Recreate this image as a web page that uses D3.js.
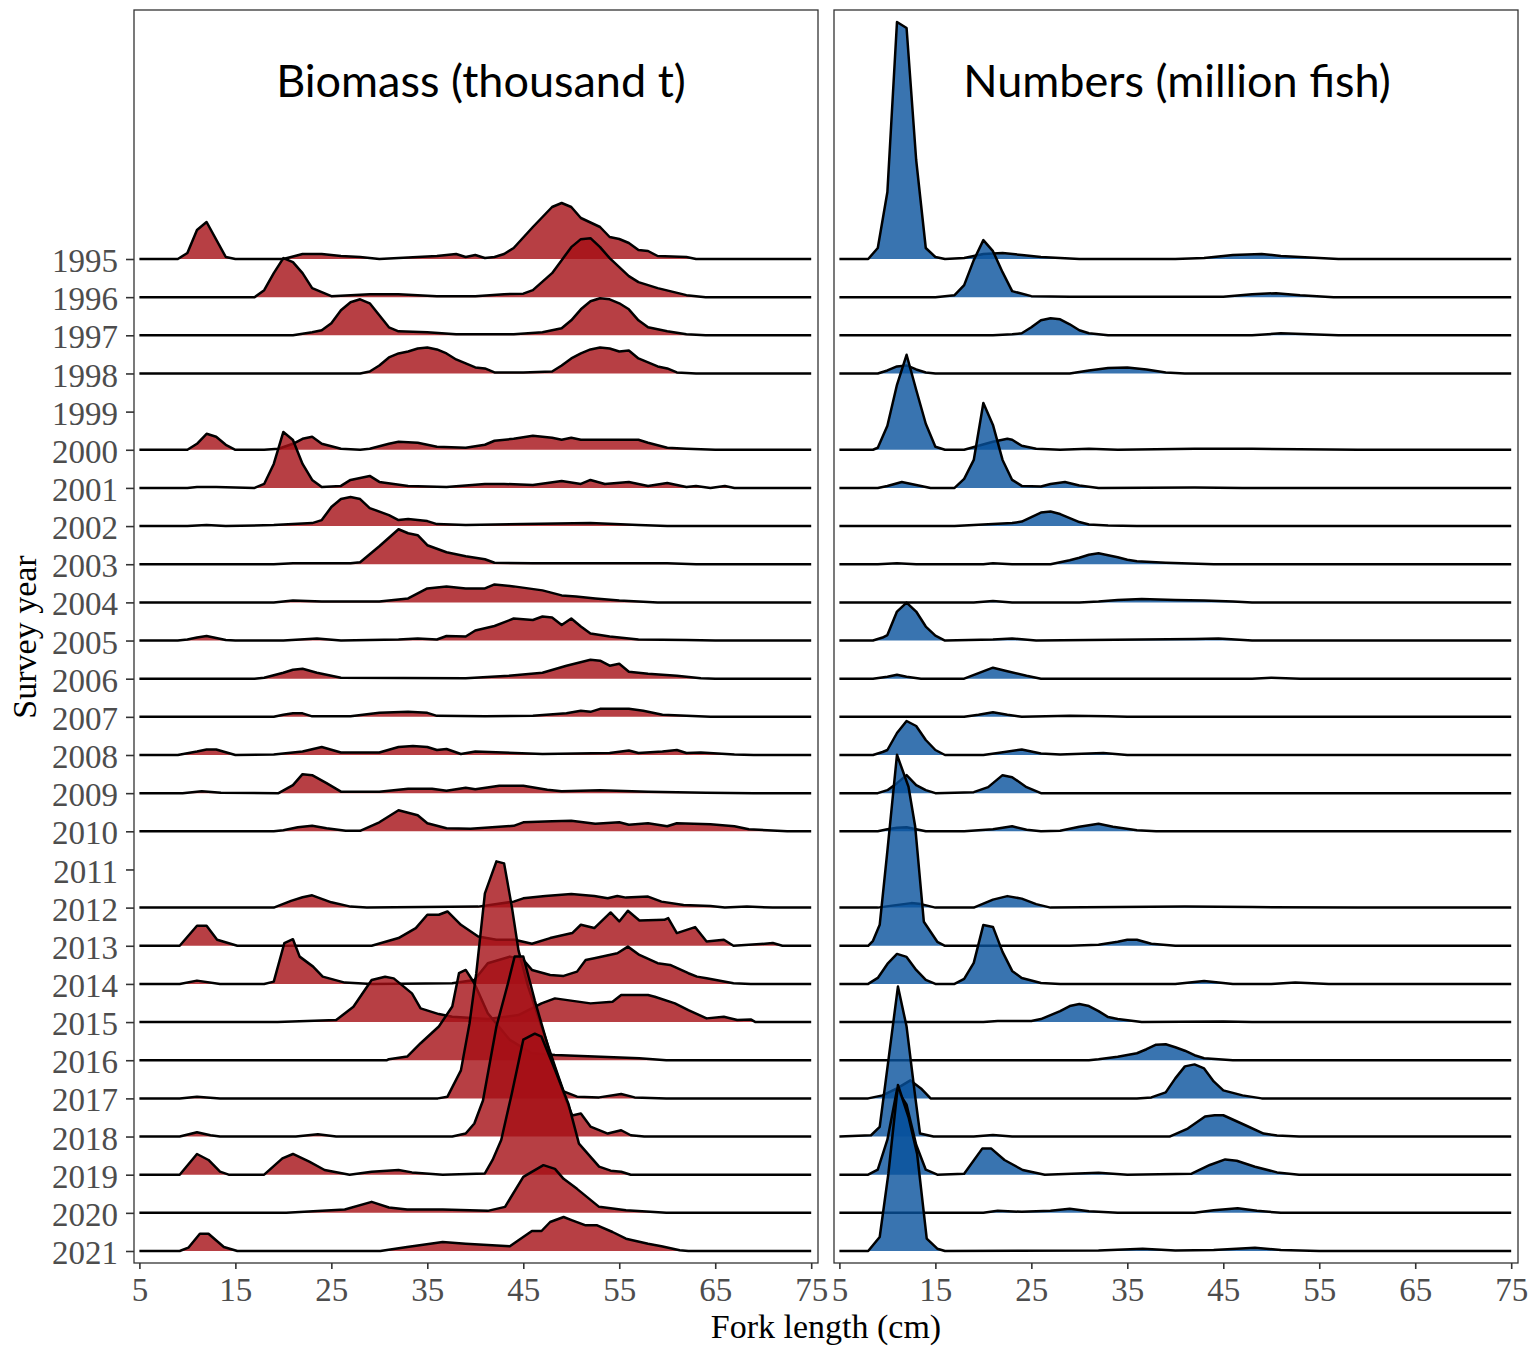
<!DOCTYPE html>
<html>
<head>
<meta charset="utf-8">
<script src="https://cdn.jsdelivr.net/npm/d3@7"></script>
<style>
  body { margin: 0; background: #fff; }
</style>
</head>
<body>
<svg id="chart" width="1530" height="1347"></svg>
<script>
// Survey years (top to bottom) and x ticks
const years = [1995, 1996, 1997, 1998, 1999, 2000, 2001, 2002, 2003, 2004, 2005, 2006, 2007, 2008,
  2009, 2010, 2011, 2012, 2013, 2014, 2015, 2016, 2017, 2018, 2019, 2020, 2021];
const xTicks = [5, 15, 25, 35, 45, 55, 65, 75];

// Biomass (thousand t) by fork length (cm): [length, value] per year, null = no survey
const biomass = [
  [[9,0],[10,0.6],[11,2.9],[12,3.7],[14,0.2],[15,0],[20,0],[22,0.5],[24,0.5],[26,0.3],[28,0.2],[30,0],[32,0.1],[36,0.3],[38,0.5],[39,0.2],[40,0.4],[41,0.1],[42,0.2],[43,0.5],[44,1.1],[46,3.2],[48,5.2],[49,5.6],[50,5.2],[51,4.1],[53,3.2],[54,2.2],[55,2.0],[56,1.6],[57,0.9],[58,0.8],[59,0.3],[62,0.2],[63,0]],
  [[17,0],[18,0.7],[19,2.4],[20,3.9],[21,3.5],[22,2.4],[23,0.9],[25,0.1],[29,0.3],[32,0.3],[36,0.1],[40,0.1],[43,0.3],[45,0.35],[46,0.7],[48,2.4],[49,3.7],[50,5.0],[51,5.8],[52,5.9],[53,5.0],[54,3.9],[55,3.0],[56,2.1],[57,1.5],[59,0.9],[62,0.2],[64,0]],
  [[21,0],[23,0.3],[24,0.5],[25,1.2],[26,2.5],[27,3.3],[28,3.6],[29,3.2],[30,2.0],[31,0.8],[32,0.4],[35,0.3],[38,0.1],[44,0.1],[47,0.3],[49,0.7],[50,1.5],[51,2.6],[52,3.4],[53,3.7],[54,3.6],[55,3.2],[56,2.6],[57,1.5],[58,0.8],[60,0.4],[62,0.1],[64,0]],
  [[28,0],[29,0.2],[30,0.8],[31,1.6],[32,2.0],[33,2.2],[34,2.5],[35,2.6],[36,2.4],[37,2.0],[38,1.4],[39,1.0],[40,0.6],[41,0.5],[42,0.1],[45,0.1],[48,0.2],[49,0.8],[50,1.5],[51,2.0],[52,2.4],[53,2.6],[54,2.5],[55,2.2],[56,2.3],[57,1.5],[58,1.1],[59,0.7],[60,0.5],[61,0.1],[63,0]],
  null,
  [[10,0],[11,0.6],[12,1.6],[13,1.3],[14,0.5],[15,0],[18,0],[19.5,0.1],[21,0.6],[22,1.1],[23,1.3],[24,0.6],[26,0.1],[28,0],[29,0.1],[31,0.6],[32,0.8],[34,0.7],[36,0.3],[39,0.2],[41,0.5],[42,0.9],[44,1.1],[46,1.4],[48,1.2],[49,1.0],[50,1.2],[51,1.0],[53,1.0],[55,1.0],[57,1.0],[58,0.7],[60,0.2],[62,0.1],[65,0]],
  [[10,0],[11,0.1],[13,0.1],[17,0],[18,0.4],[19,2.4],[20,5.6],[21,4.8],[22,2.4],[23,0.8],[24,0.1],[26,0.2],[27,0.8],[29,1.2],[30,0.6],[31.5,0.4],[33,0.2],[37,0.1],[41,0.4],[43,0.4],[46,0.3],[49,0.7],[51,0.4],[52,0.8],[53.5,0.4],[56,0.6],[58,0.2],[60,0.5],[62,0.1],[63,0.2],[64.5,0],[66,0.2],[67,0]],
  [[10,0],[12,0.1],[14,0],[19,0.1],[21,0.2],[23,0.3],[24,0.6],[25,1.9],[26,2.7],[27,2.9],[28,2.7],[29,1.8],[31,1.1],[32,0.6],[33,0.7],[35,0.5],[36,0.2],[39,0.1],[45,0.2],[52,0.3],[57,0.1],[60,0]],
  [[19,0],[21,0.1],[27,0.1],[28,0.2],[30,1.8],[32,3.5],[33,3.1],[34,2.9],[35,1.9],[37,1.2],[39,0.8],[41,0.5],[42,0.15],[46,0.1],[50,0.1],[55,0.1],[60,0.1],[63,0]],
  [[19,0],[21,0.2],[24,0.1],[30,0.1],[33,0.4],[35,1.4],[37,1.6],[39,1.4],[41,1.4],[42,1.8],[44,1.6],[47,1.2],[49,0.7],[50.5,0.6],[52.5,0.4],[55,0.2],[57,0.1],[59,0]],
  [[9,0],[10,0.1],[11,0.3],[12,0.45],[14,0.05],[15,0],[20,0],[23.5,0.2],[26,0],[32,0.1],[34,0.2],[36,0.1],[37,0.45],[39,0.4],[40,1.0],[42,1.45],[44,2.2],[46,2.05],[47,2.4],[48,2.3],[49,1.55],[50,2.2],[51,1.4],[52,0.7],[54,0.4],[57,0.1],[62,0.05],[65,0]],
  [[17,0],[18,0.1],[20,0.6],[21,0.9],[22,1.0],[23.5,0.6],[26,0.1],[39,0.05],[43.5,0.3],[47,0.6],[49.5,1.3],[52,1.9],[53,1.8],[54,1.3],[55,1.5],[56,0.7],[58,0.5],[61,0.3],[63.5,0.05],[65,0]],
  [[19,0],[20,0.2],[21,0.35],[22,0.35],[23,0.05],[27,0.05],[30,0.4],[33,0.5],[35,0.4],[36,0.1],[41,0.05],[46,0.1],[49.5,0.35],[51,0.6],[52,0.5],[53,0.8],[56,0.8],[57.5,0.6],[59.5,0.2],[64.5,0]],
  [[9,0],[11,0.35],[12,0.55],[13,0.55],[15,0],[19,0.05],[22,0.35],[24,0.8],[26,0.25],[30,0.25],[32,0.8],[33.5,0.9],[35,0.8],[36,0.5],[37,0.6],[38.5,0.1],[40,0.35],[47,0.1],[54,0.2],[56,0.45],[57,0.2],[59.5,0.35],[61,0.5],[62,0.2],[63.5,0.25],[67,0.05],[69,0]],
  [[9.5,0],[11.5,0.2],[13.5,0.05],[19.5,0],[21,0.8],[22,1.9],[23,1.8],[24.5,1.0],[26,0.15],[30,0.15],[33,0.45],[35.5,0.45],[37,0.25],[39,0.55],[40,0.4],[42.5,0.75],[45,0.75],[47.5,0.35],[49,0.2],[53,0.3],[58,0.15],[64,0.05],[69,0]],
  [[19,0],[20,0.1],[21.5,0.4],[23,0.55],[24.5,0.3],[26.5,0.05],[28,0.05],[30,0.9],[32,2.1],[34,1.6],[35,0.8],[37,0.3],[39.5,0.25],[44,0.55],[45,0.9],[48,1.0],[50,1.05],[52.5,0.75],[55,0.9],[56,0.65],[58,0.8],[60,0.5],[61,0.8],[64.5,0.7],[67,0.5],[68.5,0.2],[72.5,0]],
  null,
  [[19,0],[20.8,0.67],[22,1.03],[23,1.23],[25,0.53],[27,0.1],[28.7,0],[40.3,0.1],[44,0.6],[45,0.93],[47.3,1.17],[50,1.37],[52.4,1.17],[53.8,0.93],[54.8,1.17],[55.7,1.0],[58,1.1],[59.4,0.6],[61.7,0.27],[64.5,0.17],[66,0],[68.3,0.1],[71,0]],
  [[9.2,0],[11,2.0],[12,2.0],[13.1,0.6],[15.2,0],[29.2,0],[32,0.77],[33.8,1.77],[35,3.1],[36.2,3.1],[37.1,3.43],[38.5,2.1],[40.3,0.93],[42.2,0.6],[44.1,0.6],[45.9,0.2],[47.8,0.77],[50.1,1.27],[51,2.1],[52.4,1.77],[54.1,3.33],[55,2.43],[55.9,3.5],[57.1,2.53],[59.7,2.6],[60.1,2.77],[61,1.27],[62.9,1.87],[64.1,0.43],[65.9,0.6],[66.9,0],[69.7,0.17],[71,0.27],[72,0],[75,0]],
  [[9.2,0],[11,0.33],[13.4,0],[18,0],[19,0.23],[20.1,4.07],[21,4.47],[21.7,2.73],[23.1,1.73],[24.1,0.73],[26.4,0.13],[29.2,0],[37.6,0.07],[39.9,0.4],[41.3,2.07],[43.6,2.73],[45,2.4],[45.9,1.4],[47.8,0.9],[49.2,0.8],[50.6,1.23],[51.5,2.4],[52.4,2.57],[54.8,3.07],[55.9,3.73],[57.1,2.9],[59,2.07],[60.3,1.9],[62.2,1.07],[63.1,0.73],[64.1,0.57],[66.9,0.07],[68.7,0]],
  [[19.4,0],[25.5,0.2],[27.3,1.53],[29.2,4.2],[30.6,4.53],[31.5,4.37],[33.4,2.87],[34.3,1.37],[36.2,0.8],[37.6,0.53],[41.3,0.3],[44.5,0.7],[46.9,1.87],[48.3,2.37],[52,1.87],[54.3,2.03],[55.2,2.7],[58,2.7],[58.7,2.53],[60.8,1.87],[62.2,1.2],[64.1,0.37],[65.9,0.53],[67.3,0.2],[68.7,0.27],[69.2,0]],
  [[30.8,0],[31,0.1],[32.9,0.37],[34.3,1.7],[36.2,3.37],[37.6,5.37],[38.3,8.7],[39,9.03],[39.9,7.7],[41.3,4.7],[43.6,2.03],[45.9,0.7],[48.3,0.53],[52.4,0.37],[57.1,0.2],[59.9,0]],
  [[9.2,0],[11,0.17],[13.4,0],[36.1,0],[37.1,0.17],[38.5,2.8],[39.4,7.5],[40.1,12.5],[41,20.5],[42.2,23.7],[43,23.5],[43.8,19.2],[44.5,14.8],[45.5,11.2],[46.9,7.2],[48.3,3.2],[49.2,0.7],[50.6,0.17],[52.9,0.1],[55.2,0.43],[56.6,0.1],[59.9,0]],
  [[9.2,0],[11,0.43],[12.4,0.13],[13.4,0],[21.3,0],[23.6,0.23],[25.5,0],[37.6,0],[39,0.3],[39.9,1.3],[40.8,3.6],[42.2,11.0],[43.4,15.3],[44.1,18.0],[45,18.0],[46.2,13.6],[47.8,8.3],[49.2,4.3],[50.1,2.1],[51,2.3],[52,1.0],[53.8,0.3],[55.2,0.63],[56.2,0.13],[57.6,0]],
  [[9.2,0],[11,2.07],[12.2,1.47],[13.4,0.3],[14.3,0],[18,0],[19.9,1.63],[21,2.07],[22.7,1.3],[24.3,0.47],[26.9,0],[29.2,0.3],[32,0.47],[33.4,0.23],[36.6,0],[41,0.13],[41.8,1.47],[42.7,3.47],[43.8,8.1],[45,13.5],[46.2,14.1],[46.9,13.8],[48.3,10.5],[49.7,7.1],[50.8,3.1],[52.9,0.8],[54.1,0.4],[55.2,0.3],[56.2,0]],
  [[20.3,0],[26.4,0.33],[29.2,1.1],[31,0.53],[32.9,0.33],[36.6,0.33],[41.3,0.2],[43.1,0.6],[45,3.6],[47.1,4.77],[48.3,4.4],[49.2,3.4],[50.6,2.4],[52.9,0.6],[55.7,0.27],[59.9,0]],
  [[9.2,0],[10.1,0.33],[11.3,1.73],[12.2,1.73],[13.8,0.4],[15.2,0],[30.1,0],[32.9,0.4],[36.6,0.9],[39,0.73],[43.6,0.47],[44.5,1.07],[45.9,2.0],[46.9,2.0],[47.8,2.9],[49.2,3.4],[50.1,3.07],[51.5,2.57],[52.7,2.57],[54.3,1.9],[55.7,1.23],[58,0.73],[59.4,0.47],[61.3,0.07],[62.2,0]]
];

// Numbers (million fish) by fork length (cm)
const numbers = [
  [[8,0],[9,1.1],[10,6.7],[11,23.7],[12,23.1],[13,9.9],[14,1.1],[15,0.2],[16,0],[18,0.1],[20,0.5],[22,0.6],[24,0.4],[26,0.2],[28,0.1],[30,0],[40,0],[43,0.1],[46,0.4],[49,0.5],[51,0.3],[55,0.1],[57,0]],
  [[15,0],[17,0.2],[18,1.2],[19,3.7],[20,5.7],[21,4.6],[22,2.5],[23,0.6],[25,0.1],[29,0.05],[45,0.05],[48,0.3],[50.5,0.4],[53,0.2],[56.5,0]],
  [[21,0],[23,0.1],[24,0.2],[25,0.8],[26,1.5],[27,1.7],[28,1.6],[29,1.1],[30,0.5],[31,0.2],[33,0],[48,0],[51,0.2],[54,0.1],[57,0]],
  [[9,0],[10,0.3],[11,0.7],[12,0.8],[13,0.4],[14,0.1],[15,0],[29,0],[31,0.3],[33,0.55],[35,0.6],[37,0.4],[39,0.1],[41,0]],
  null,
  [[8.5,0],[9,0.2],[10,2.4],[11,6.5],[12,9.5],[13,6.0],[14,2.6],[15,0.3],[16,0],[18,0],[19.5,0.4],[21,0.8],[22.5,1.1],[23,1.0],[24,0.4],[25.5,0.1],[28,0],[31,0.1],[34,0],[42,0.1],[48,0.1],[59,0]],
  [[9,0],[10,0.2],[11.5,0.6],[12.5,0.4],[14.5,0],[17,0],[18,0.9],[19,2.8],[20,8.5],[21,6.3],[22,2.8],[23,0.8],[24,0.2],[26,0.15],[27,0.4],[28.5,0.6],[30,0.25],[32,0],[42,0.05],[47,0]],
  [[17,0],[19,0.1],[21,0.2],[23,0.3],[24,0.45],[25,0.9],[26,1.35],[27,1.45],[28,1.2],[29,0.8],[30,0.4],[31,0.15],[33,0.05],[36,0]],
  [[9,0],[11,0.1],[13,0],[20,0],[21,0.1],[23,0],[27,0],[28,0.2],[29,0.4],[30,0.65],[31,0.95],[32,1.1],[33,0.9],[34,0.7],[35,0.45],[36,0.3],[39,0.15],[44,0]],
  [[19,0],[21,0.15],[23,0],[30,0],[32,0.1],[34,0.25],[36.5,0.35],[40,0.25],[43,0.2],[46,0.1],[48,0]],
  [[8.5,0],[9.5,0.3],[10,0.55],[11,2.9],[12,3.8],[13,2.9],[14,1.4],[15,0.5],[16,0],[21,0.1],[23,0.2],[25.5,0],[42,0.15],[44.5,0.2],[48,0]],
  [[8.5,0],[10,0.2],[11,0.4],[12,0.2],[13.5,0],[18,0],[19.5,0.55],[21,1.1],[22.5,0.75],[24.5,0.3],[26,0],[48,0],[50,0.1],[53,0]],
  [[18,0],[19.5,0.2],[21,0.45],[22.5,0.2],[24,0],[29,0.1],[33,0.05],[35,0]],
  [[8.5,0],[9.5,0.3],[10,0.5],[11,2.2],[12,3.4],[13,2.9],[14,1.5],[15,0.5],[16,0],[20,0],[21.5,0.2],[24,0.55],[26,0.15],[28,0.05],[31,0.15],[32.5,0.2],[35,0]],
  [[9,0],[10,0.3],[11,1.0],[12,1.8],[13,0.8],[14,0.3],[15,0],[19,0.1],[20.5,0.6],[22,1.8],[23,1.6],[24.5,0.6],[26,0],[33,0]],
  [[9,0],[10,0.2],[11,0.35],[12,0.4],[14,0],[18,0],[21,0.2],[23,0.5],[24.5,0.15],[26,0],[28,0.05],[30,0.45],[32,0.75],[33.5,0.45],[36,0.1],[38,0]],
  null,
  [[9,0],[10.5,0.2],[12.5,0.45],[13.5,0.35],[15,0],[19,0],[20,0.4],[21,0.8],[22.5,1.15],[24,0.9],[25.5,0.35],[27,0],[41,0.1],[48,0.05],[59,0]],
  [[8,0],[8.5,0.5],[9.2,2.1],[10,9.5],[11,19.1],[12.2,15.9],[12.9,11.9],[13.8,2.4],[15.2,0.4],[16,0],[29,0],[32,0.1],[34,0.4],[35,0.6],[36,0.6],[37.5,0.2],[40,0]],
  [[8,0],[9,0.6],[10,2.0],[11,3.0],[12,2.7],[13,1.4],[14,0.4],[15,0],[17,0],[18,0.5],[19,2.1],[20,5.9],[21,5.7],[22,3.2],[23,1.3],[24,0.6],[26,0.1],[28,0],[40,0],[43,0.3],[46,0],[50,0],[52.5,0.15],[56,0]],
  [[20,0],[21.5,0.1],[25,0.1],[26,0.3],[27,0.7],[28,1.1],[29,1.6],[30,1.8],[31,1.6],[32,1.1],[33,0.5],[34,0.3],[36.5,0],[45,0.05],[48,0]],
  [[31,0],[32,0.1],[34,0.35],[36,0.7],[37,1.1],[38,1.55],[39,1.6],[40,1.3],[41,0.95],[42,0.5],[43,0.2],[46,0]],
  [[8,0],[9.5,0.3],[11,1.0],[12.4,1.8],[13.5,1.0],[14.5,0],[36,0],[37.5,0.1],[39,0.6],[40,2.0],[41,3.2],[42,3.4],[43,3.0],[44,1.7],[45,0.8],[47,0.3],[49,0]],
  [[8.3,0.13],[9.2,0.97],[10.1,7.6],[11.1,15.0],[12,11.0],[12.9,4.0],[13.4,0.3],[14.8,0],[19,0],[21,0.15],[23,0],[39.4,0],[41.3,0.8],[43.1,2.0],[44.1,2.13],[45,2.13],[47.3,1.13],[49.2,0.3],[50.6,0.1],[52.9,0]],
  [[8,0],[9,0.5],[10,3.5],[11,8.5],[12,7.0],[13,3.0],[14,0.5],[15.2,0],[18,0.1],[19.9,2.63],[20.8,2.63],[22.2,1.47],[24.1,0.47],[26.4,0],[32,0.2],[35,0],[41.7,0.1],[43.6,0.97],[45.2,1.53],[46.4,1.4],[48.3,0.8],[50.6,0.23],[52.9,0]],
  [[20,0],[21.5,0.2],[24,0.1],[27,0.2],[29,0.4],[31,0.15],[34,0],[42,0],[44,0.25],[46.5,0.45],[48.5,0.2],[51,0],[56,0]],
  [[8,0],[9.2,1.4],[10.1,7.7],[11.1,16.6],[12.2,13.4],[13.1,9.7],[14.1,1.23],[15.2,0.23],[16,0],[32,0.05],[36.6,0.23],[40,0.05],[44,0.1],[48.3,0.33],[51,0.1],[55,0]]
];

const panelTop = 10, panelBottom = 1263;
const panelW = 684;
const peakPx = 237;
const serif = '"Liberation Serif", "Times New Roman", serif';

const svg = d3.select('#chart');

const y = d3.scalePoint()
  .domain(years)
  .range([259, 1251]);

const panels = [
  { title: 'Biomass (thousand t)', data: biomass, x0: 134, fill: '#a50f15', titleX: 481 },
  { title: 'Numbers (million fish)', data: numbers, x0: 834, fill: '#08519c', titleX: 1177 }
];

panels.forEach((p, pi) => {
  const x = d3.scaleLinear()
    .domain([5, 75])
    .range([p.x0 + 5.4, p.x0 + panelW - 6.8]);

  const maxV = d3.max(p.data, s => s ? d3.max(s, d => d[1]) : 0);
  const h = d3.scaleLinear().domain([0, maxV]).range([0, peakPx]);

  const g = svg.append('g');

  // panel frame
  g.append('rect')
    .attr('x', p.x0)
    .attr('y', panelTop)
    .attr('width', panelW)
    .attr('height', panelBottom - panelTop)
    .attr('fill', 'none')
    .attr('stroke', '#333')
    .attr('stroke-width', 1.3);

  // ridges, top year first so lower rows sit in front
  years.forEach((yr, i) => {
    const s = p.data[i];
    if (!s) return;
    const pts = s.slice();
    if (pts[0][0] > 5) pts.unshift([5, 0]);
    if (pts[pts.length - 1][0] < 75) pts.push([75, 0]);
    const base = y(yr);

    const area = d3.area()
      .x(d => x(d[0]))
      .y0(base)
      .y1(d => base - h(d[1]));
    const line = d3.line()
      .x(d => x(d[0]))
      .y(d => base - h(d[1]));

    const rg = g.append('g').attr('class', 'ridge');
    rg.append('path')
      .attr('d', area(pts))
      .attr('fill', p.fill)
      .attr('fill-opacity', 0.8);
    rg.append('path')
      .attr('d', line(pts))
      .attr('fill', 'none')
      .attr('stroke', '#000')
      .attr('stroke-width', 2.5)
      .attr('stroke-linejoin', 'round');
  });

  // x axis
  const xAxis = svg.append('g')
    .attr('transform', `translate(0,${panelBottom})`)
    .call(d3.axisBottom(x).tickValues(xTicks).tickSize(6).tickPadding(9));
  xAxis.select('.domain').remove();
  xAxis.selectAll('line').attr('stroke', '#333').attr('stroke-width', 1.6);
  xAxis.selectAll('text')
    .attr('fill', '#4d4d4d')
    .style('font-family', serif)
    .style('font-size', '33px');

  // panel title
  g.append('text')
    .attr('x', p.titleX)
    .attr('y', 97)
    .attr('text-anchor', 'middle')
    .style('font-family', 'Lato, "Open Sans", sans-serif')
    .style('font-size', '45px')
    .attr('fill', '#000')
    .text(p.title);

  // y axis on the left panel only
  if (pi === 0) {
    const yAxis = svg.append('g')
      .attr('transform', `translate(${p.x0},0)`)
      .call(d3.axisLeft(y).tickSize(8).tickPadding(8));
    yAxis.select('.domain').remove();
    yAxis.selectAll('line').attr('stroke', '#333').attr('stroke-width', 1.6);
    yAxis.selectAll('text')
      .attr('fill', '#4d4d4d')
      .attr('dy', '0.38em')
      .style('font-family', serif)
      .style('font-size', '33px');
  }
});

// axis titles
svg.append('text')
  .attr('x', 826)
  .attr('y', 1338)
  .attr('text-anchor', 'middle')
  .style('font-family', serif)
  .style('font-size', '34px')
  .attr('fill', '#000')
  .text('Fork length (cm)');

svg.append('text')
  .attr('transform', 'translate(36,637) rotate(-90)')
  .attr('text-anchor', 'middle')
  .style('font-family', serif)
  .style('font-size', '34px')
  .attr('fill', '#000')
  .text('Survey year');
</script>
</body>
</html>
